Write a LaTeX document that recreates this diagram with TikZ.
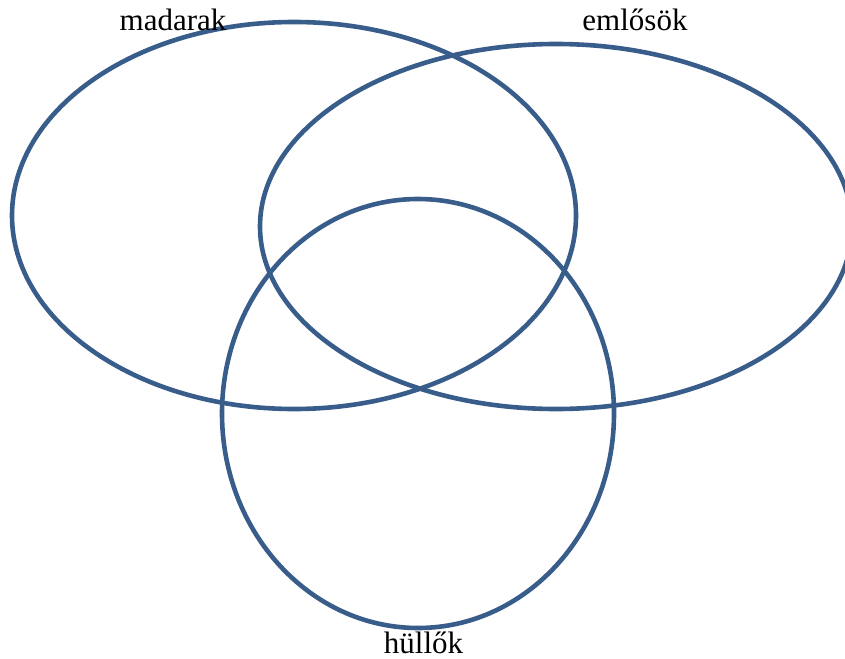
\documentclass[tikz,border=0pt]{standalone}
\usepackage{fontspec}
\setmainfont{Liberation Serif}
\usetikzlibrary{positioning}
\definecolor{vennblue}{RGB}{56,93,138}
\tikzset{
set/.style={
    draw=vennblue,
    line width=4.6pt
},
setlabel/.style={
    font=\fontsize{31}{36}\selectfont,
    anchor=base,
    inner sep=0pt
}
}

\begin{document}
\begin{tikzpicture}[x=1pt, y=-1pt]

\useasboundingbox (0,0) rectangle (845,658);
\clip (0,0) rectangle (845,658);

% SETS
\draw[set] (294,215.5) ellipse [x radius=282, y radius=193.5];
\draw[set] (556,226.5) ellipse [x radius=296, y radius=182.5];
\draw[set] (418,413.5) ellipse [x radius=196, y radius=214.5];

% LABELS
\node[setlabel] (birds) at (173,31) {madarak};
\node[setlabel] (mammals) at (635,31) {emlősök};
\node[setlabel] (reptiles) at (423.5,653) {hüllők};

\end{tikzpicture}
\end{document}
